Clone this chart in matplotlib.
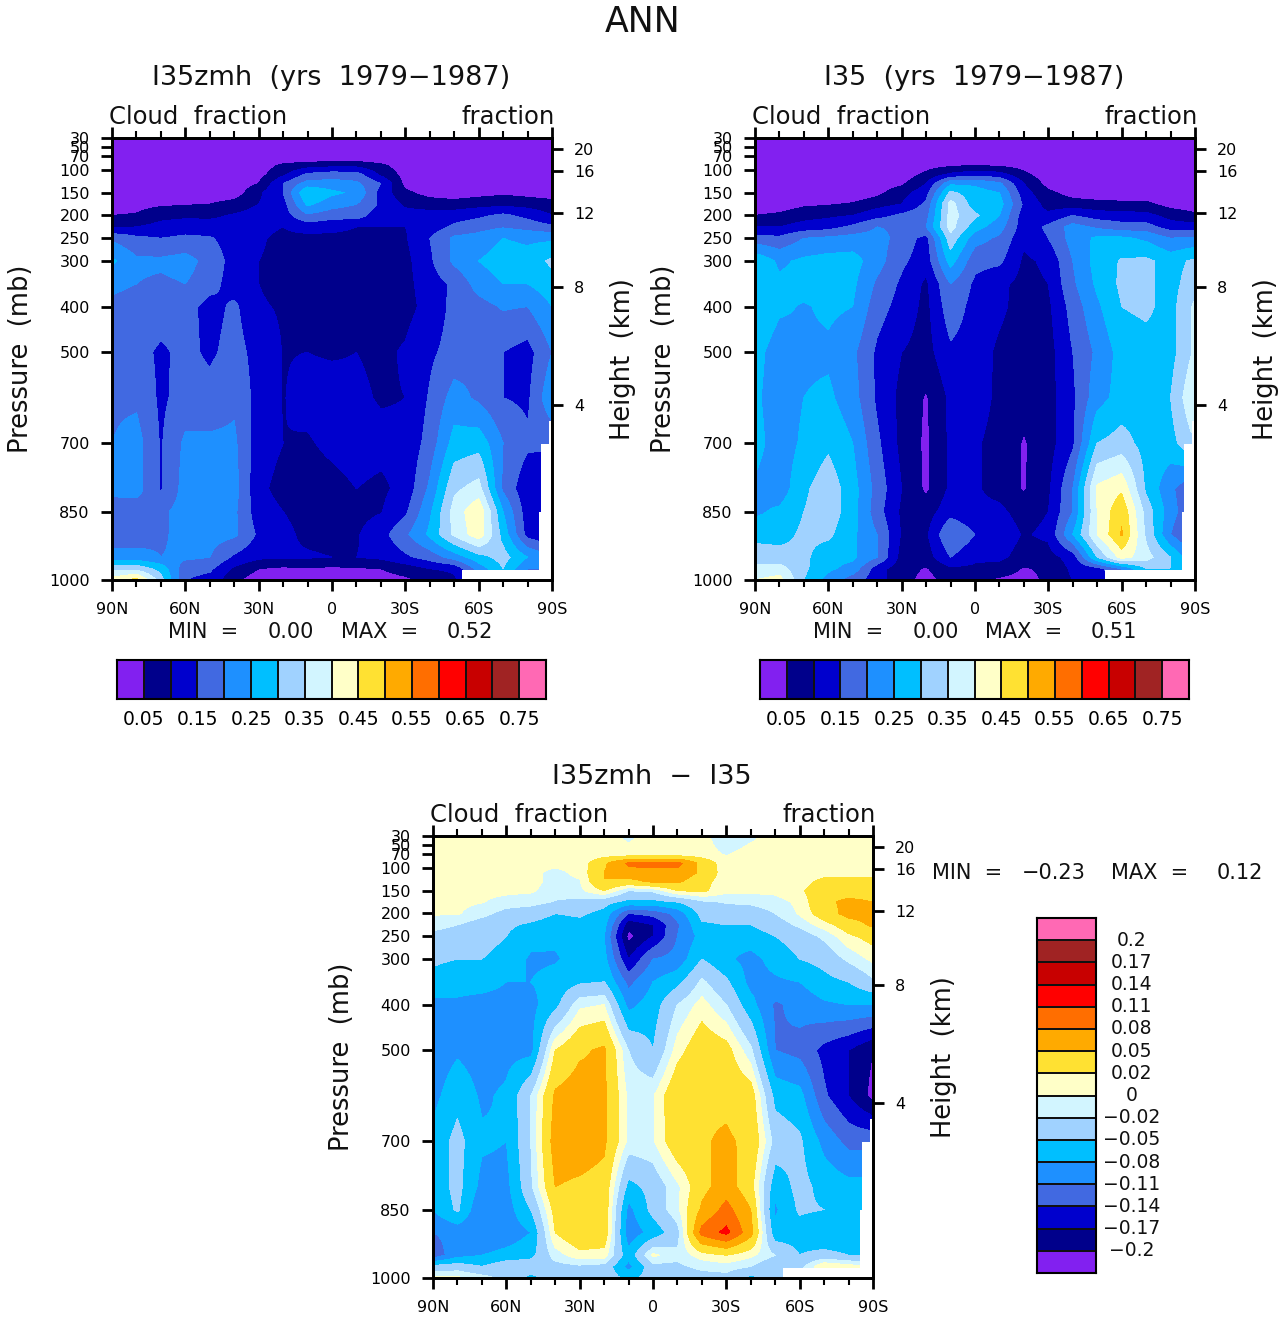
import numpy as np
import matplotlib
matplotlib.use('Agg')
import matplotlib.pyplot as plt
from matplotlib.colors import ListedColormap

plt.rcParams['font.family'] = ['DejaVu Sans']

W, H = 1285, 1319
lats = [90, 80, 70, 60, 50, 40, 30, 20, 10, 0, -10, -20, -30, -40, -50, -60, -70, -80, -90]
plevs = [30, 70, 90, 110, 130, 150, 175, 200, 225, 250, 300, 350, 400, 500, 600, 700, 800, 850, 900, 950, 975, 1000]
surf_lat = [-53.4, -84.5, -85.8, -88.5]
surf_p = [978, 850, 700, 650]

p_ticks = [30, 50, 70, 100, 150, 200, 250, 300, 400, 500, 700, 850, 1000]
km_labels = ['20', '16', '12', '8', '4']
km_p = [54, 102, 195, 357, 616]
lat_ticks = [90, 60, 30, 0, -30, -60, -90]
lat_labels = ['90N', '60N', '30N', '0', '30S', '60S', '90S']
lat_minor = [80, 70, 50, 40, 20, 10, -10, -20, -40, -50, -70, -80]

colors = ['#8220F0', '#00008B', '#0000CD', '#4169E1', '#1E90FF', '#00BFFF', '#A0D2FF', '#D2F5FF',
          '#FFFFC8', '#FFE132', '#FFAA00', '#FF6E00', '#FF0000', '#C80000', '#A02323', '#FF69B4']
levels_abs = [.05, .10, .15, .20, .25, .30, .35, .40, .45, .50, .55, .60, .65, .70, .75]
labels_abs = ['0.05', '0.15', '0.25', '0.35', '0.45', '0.55', '0.65', '0.75']
levels_diff = [-.2, -.17, -.14, -.11, -.08, -.05, -.02, 0, .02, .05, .08, .11, .14, .17, .2]
labels_diff = ['-0.2', '-0.17', '-0.14', '-0.11', '-0.08', '-0.05', '-0.02', '0', '0.02', '0.05', '0.08', '0.11', '0.14', '0.17', '0.2']

cloud_zmh = [
 [0]*19,
 [0]*19,
 [0,0,0,0,0,0,.02,.06,.075,.085,.085,.06,.02,0,0,0,0,0,0],
 [0,0,0,0,0,.01,.03,.09,.16,.175,.17,.09,.03,.01,0,0,0,0,0],
 [0,0,0,0,.005,.02,.05,.15,.22,.22,.21,.15,.035,.01,.005,.005,.01,.005,0],
 [0,0,0,.005,.01,.02,.09,.15,.3,.26,.24,.13,.06,.03,.02,.03,.04,.03,.02],
 [.02,.03,.04,.045,.05,.07,.10,.13,.26,.22,.20,.14,.09,.075,.07,.08,.085,.08,.07],
 [.05,.055,.085,.09,.09,.105,.12,.125,.19,.17,.17,.12,.12,.12,.125,.14,.16,.135,.10],
 [.09,.10,.115,.125,.12,.115,.11,.10,.12,.11,.10,.10,.10,.12,.16,.18,.195,.18,.16],
 [.19,.16,.15,.16,.155,.125,.105,.09,.085,.09,.09,.09,.095,.15,.21,.22,.25,.24,.24],
 [.26,.21,.21,.22,.18,.13,.10,.09,.085,.085,.085,.085,.085,.14,.21,.25,.275,.27,.31],
 [.21,.20,.19,.20,.17,.125,.10,.085,.08,.08,.08,.085,.085,.125,.16,.22,.25,.25,.28],
 [.19,.18,.18,.17,.13,.16,.105,.095,.09,.08,.08,.085,.085,.115,.165,.18,.205,.20,.25],
 [.17,.17,.14,.165,.14,.17,.13,.098,.10,.095,.10,.09,.105,.14,.17,.19,.15,.13,.20],
 [.19,.19,.14,.17,.17,.19,.13,.098,.115,.12,.11,.095,.10,.155,.22,.19,.15,.14,.24],
 [.20,.22,.145,.21,.21,.21,.12,.10,.095,.11,.12,.115,.11,.17,.27,.28,.20,.16,.16],
 [.21,.22,.145,.22,.22,.22,.11,.085,.08,.085,.10,.09,.115,.21,.34,.37,.19,.11,.10],
 [.18,.17,.19,.22,.21,.21,.12,.10,.085,.085,.085,.097,.14,.24,.37,.44,.25,.12,.10],
 [.17,.17,.19,.22,.22,.21,.14,.11,.09,.085,.095,.13,.19,.26,.36,.43,.28,.13,.10],
 [.22,.22,.20,.21,.20,.14,.11,.105,.105,.10,.10,.11,.14,.17,.22,.28,.32,.25,.20],
 [.33,.33,.28,.17,.16,.09,.05,.04,.045,.04,.045,.05,.07,.10,.11,.22,.30,.20,.20],
 [.42,.47,.32,.15,.13,.06,.02,.02,.02,.02,.02,.03,.04,.06,.09,.15,.15,.15,.15],
]

cloud_ctl = [
 [0]*19,
 [0]*19,
 [0,0,0,0,0,0,.01,.03,.04,.05,.04,.03,.01,0,0,0,0,0,0],
 [0,0,0,0,0,.01,.02,.06,.11,.13,.12,.06,.02,0,0,0,0,0,0],
 [0,0,0,0,0,.02,.04,.10,.24,.24,.21,.10,.03,.01,0,0,0,0,0],
 [0,0,0,0,.01,.035,.08,.13,.31,.27,.25,.12,.06,.03,.02,.02,.02,.01,0],
 [.01,.02,.04,.045,.055,.08,.10,.16,.37,.27,.27,.14,.08,.07,.065,.06,.06,.03,.02],
 [.05,.06,.08,.09,.10,.13,.16,.18,.37,.31,.25,.12,.11,.15,.125,.12,.115,.08,.06],
 [.10,.10,.12,.13,.16,.20,.19,.20,.37,.27,.22,.12,.16,.22,.19,.17,.17,.125,.12],
 [.17,.16,.20,.21,.22,.22,.18,.13,.33,.22,.19,.11,.15,.22,.26,.26,.24,.20,.21],
 [.29,.24,.26,.27,.27,.22,.16,.12,.27,.165,.16,.09,.11,.20,.27,.305,.31,.28,.31],
 [.30,.26,.27,.27,.26,.19,.14,.09,.20,.14,.11,.085,.10,.19,.26,.31,.31,.28,.33],
 [.30,.26,.245,.26,.25,.17,.13,.085,.18,.13,.11,.08,.09,.17,.24,.30,.31,.28,.36],
 [.27,.22,.24,.24,.21,.14,.10,.08,.14,.125,.09,.07,.08,.15,.21,.27,.28,.28,.36],
 [.26,.22,.25,.26,.22,.14,.085,.045,.11,.12,.09,.07,.08,.14,.23,.27,.28,.30,.40],
 [.27,.22,.26,.29,.25,.16,.085,.04,.11,.105,.085,.045,.08,.14,.30,.32,.28,.28,.35],
 [.24,.22,.29,.33,.27,.18,.10,.04,.11,.105,.085,.045,.09,.20,.41,.44,.29,.21,.15],
 [.24,.26,.30,.33,.27,.17,.09,.075,.13,.11,.11,.08,.10,.20,.40,.49,.33,.22,.15],
 [.28,.28,.31,.31,.26,.20,.095,.09,.20,.15,.13,.095,.11,.25,.40,.505,.34,.20,.12],
 [.33,.32,.31,.27,.26,.20,.08,.075,.15,.11,.11,.08,.08,.12,.30,.42,.37,.30,.20],
 [.36,.37,.31,.26,.23,.12,.07,.045,.09,.09,.08,.045,.06,.11,.13,.20,.30,.30,.30],
 [.40,.42,.30,.23,.17,.12,.07,.03,.07,.06,.04,.03,.06,.10,.12,.20,.30,.30,.30],
]

cloud_diff = [
 [.005,.005,.005,.005,.005,.005,.005,.005,-.003,.005,.005,.005,-.01,-.003,.005,.005,.005,.005,.005],
 [.005,.005,.005,.005,.005,.005,.005,.005,.005,.005,.005,.005,-.001,.005,.005,.005,.005,.005,.005],
 [.005,.005,.005,.005,.005,.005,.005,.045,.085,.09,.09,.04,.005,.005,.005,.005,.005,.005,.005],
 [.005,.005,.005,.005,.005,-.005,.005,.05,.07,.07,.07,.045,.005,.005,.005,.005,.005,.005,.005],
 [.005,.005,.005,.005,.005,-.005,-.002,.05,.04,.055,.055,.03,.005,.005,.005,.005,.03,.035,.03],
 [.005,.005,.005,.005,.003,-.01,-.005,.02,-.02,-.015,.02,.025,.005,.005,.005,.015,.04,.04,.04],
 [.005,.005,.001,-.008,-.012,-.022,-.028,-.04,-.06,-.06,-.05,-.025,-.018,-.015,-.008,.005,.045,.055,.05],
 [.002,.002,-.012,-.03,-.035,-.05,-.045,-.06,-.14,-.13,-.10,-.04,-.035,-.035,-.02,.003,.035,.06,.06],
 [-.01,-.02,-.035,-.045,-.055,-.065,-.06,-.07,-.19,-.17,-.115,-.055,-.05,-.05,-.035,-.015,.01,.035,.055],
 [-.03,-.035,-.04,-.05,-.07,-.075,-.07,-.08,-.21,-.17,-.11,-.07,-.07,-.065,-.05,-.035,-.015,.015,.03],
 [-.045,-.05,-.05,-.06,-.085,-.083,-.07,-.07,-.17,-.11,-.10,-.05,-.075,-.09,-.07,-.05,-.04,-.015,.005],
 [-.06,-.07,-.07,-.08,-.08,-.07,-.055,-.05,-.12,-.08,-.06,-.015,-.045,-.09,-.085,-.08,-.06,-.05,-.025],
 [-.09,-.085,-.09,-.09,-.09,-.06,-.005,0,-.09,-.065,-.02,.008,-.02,-.07,-.115,-.10,-.085,-.08,-.08],
 [-.10,-.085,-.095,-.09,-.09,.02,.045,.055,-.02,-.05,.01,.04,.03,-.015,-.11,-.12,-.15,-.17,-.20],
 [-.09,-.06,-.085,-.075,-.02,.055,.065,.055,-.005,-.002,.045,.047,.045,.035,-.06,-.07,-.135,-.17,-.21],
 [-.07,-.04,-.075,-.08,-.02,.065,.065,.055,-.005,-.002,.04,.048,.053,.045,-.03,-.045,-.09,-.12,-.12],
 [-.07,-.04,-.09,-.09,-.025,.05,.045,.04,-.06,-.04,-.005,.04,.065,.03,-.07,-.04,-.06,-.07,-.07],
 [-.08,-.045,-.11,-.095,-.05,.03,.04,.04,-.09,-.04,-.005,.055,.09,.05,-.085,-.045,-.05,-.08,-.07],
 [-.11,-.10,-.11,-.10,-.08,.02,.045,.04,-.10,-.07,-.03,.09,.118,.06,-.07,-.065,-.08,-.08,-.07],
 [-.13,-.09,-.08,-.07,-.06,-.01,.012,.01,-.07,.005,-.015,.01,.02,.005,-.02,-.05,-.04,-.05,-.05],
 [-.04,-.035,-.05,-.03,-.03,-.03,-.025,-.03,-.09,-.03,-.025,-.015,-.01,-.02,-.05,-.03,.02,.01,0],
 [.005,.005,-.01,-.03,-.06,-.035,-.03,-.03,-.06,-.035,-.03,-.03,-.03,-.06,-.03,0,0,0,0],
]

fig = plt.figure(figsize=(W / 100, H / 100), dpi=100)


def px_axes(x0, y0, x1, y1):
    return fig.add_axes([x0 / W, 1 - y1 / H, (x1 - x0) / W, (y1 - y0) / H])


def txt(x, y, s, size, ha='center', va='center', rot=0):
    fig.text(x / W, 1 - y / H, s, fontsize=size, ha=ha, va=va, rotation=rot, color='#111111')


def fine_field(values):
    z = np.array(values, float)
    lat = np.array(lats, float)
    lev = np.array(plevs, float)
    flat = np.arange(90, -90.01, -0.5)
    flev = np.arange(30, 1000.01, 2.5)
    a = np.array([np.interp(flev, lev, z[:, j]) for j in range(len(lat))]).T
    b = np.array([np.interp(-flat, -lat, row) for row in a])
    ground = np.full(flat.shape, 1100.0)
    for la, ps in zip(surf_lat, surf_p):
        ground[flat < la] = ps
    mask = flev[:, None] > ground[None, :]
    return flat, flev, np.ma.array(b, mask=mask)


def panel(x0, y0, values, levels):
    ax = px_axes(x0, y0, x0 + 440, y0 + 442)
    flat, flev, z = fine_field(values)
    ax.contourf(flat, flev, z, levels=levels, colors=colors, extend='both', corner_mask=False)
    ax.set_xlim(90, -90)
    ax.set_ylim(1000, 30)
    ax.set_xticks(lat_ticks)
    ax.set_xticklabels(lat_labels, fontsize=11.5)
    ax.set_xticks(lat_minor, minor=True)
    ax.set_yticks(p_ticks)
    ax.set_yticklabels([str(p) for p in p_ticks], fontsize=11.5)
    ax.tick_params(axis='x', which='major', length=8, width=2, top=True, pad=8)
    ax.tick_params(axis='x', which='minor', length=5, width=1.5, top=True)
    ax.tick_params(axis='y', which='major', length=8, width=2, pad=8)
    r = ax.twinx()
    r.set_ylim(1000, 30)
    r.set_yticks(km_p)
    r.set_yticklabels(km_labels, fontsize=11.5)
    r.tick_params(axis='y', length=8, width=2, pad=8)
    for a in (ax, r):
        for s in a.spines.values():
            s.set_linewidth(2)
    txt(x0 - 3, y0 - 21, 'Cloud  fraction', 17.5, ha='left')
    txt(x0 + 443, y0 - 21, 'fraction', 17.5, ha='right')
    txt(x0 - 91, y0 + 221, 'Pressure  (mb)', 18.5, rot=90)
    txt(x0 + 511, y0 + 221, 'Height  (km)', 18.5, rot=90)


def hbar(x0, y0, levels, labels):
    ax = px_axes(x0, y0, x0 + 429, y0 + 39)
    edges = np.arange(len(colors) + 1)
    ax.pcolormesh(edges, [0, 1], np.arange(len(colors))[None, :], cmap=ListedColormap(colors),
                  edgecolors='#111111', linewidth=1.2)
    ax.set_yticks([])
    ax.set_xticks(np.arange(1, len(levels) + 1, 2))
    ax.set_xticklabels(labels, fontsize=13.5)
    ax.tick_params(axis='x', length=0, pad=8)
    for s in ax.spines.values():
        s.set_linewidth(1.5)


def vbar(x0, y0, x1, y1, levels, labels):
    ax = px_axes(x0, y0, x1, y1)
    edges = np.arange(len(colors) + 1)
    ax.pcolormesh([0, 1], edges, np.arange(len(colors))[:, None], cmap=ListedColormap(colors),
                  edgecolors='#111111', linewidth=1.2)
    ax.set_xticks([])
    ax.set_yticks([])
    for s in ax.spines.values():
        s.set_linewidth(1.5)
    for i, lab in enumerate(labels):
        ax.text(1.6, i + 1, lab.replace('-', '\u2212'), fontsize=13.5, ha='center', va='center', color='#111111')


txt(643, 22, 'ANN', 25)
txt(331, 78, 'I35zmh  (yrs  1979\u22121987)', 19.5)
txt(974, 78, 'I35  (yrs  1979\u22121987)', 19.5)
txt(652, 777, 'I35zmh  \u2212  I35', 19.5)

panel(112, 138, cloud_zmh, levels_abs)
panel(755, 138, cloud_ctl, levels_abs)
panel(433, 836, cloud_diff, levels_diff)

for x, s in [(168, 'MIN  ='), (268, '0.00'), (341, 'MAX  ='), (447, '0.52'),
             (813, 'MIN  ='), (913, '0.00'), (985, 'MAX  ='), (1091, '0.51')]:
    txt(x, 632, s, 15, ha='left')
for x, s in [(932, 'MIN  ='), (1022, '\u22120.23'), (1111, 'MAX  ='), (1217, '0.12')]:
    txt(x, 873, s, 15, ha='left')

hbar(117, 660, levels_abs, labels_abs)
hbar(760, 660, levels_abs, labels_abs)
vbar(1037, 918, 1096, 1273, levels_diff, labels_diff)

fig.savefig('out.png', dpi=100)
